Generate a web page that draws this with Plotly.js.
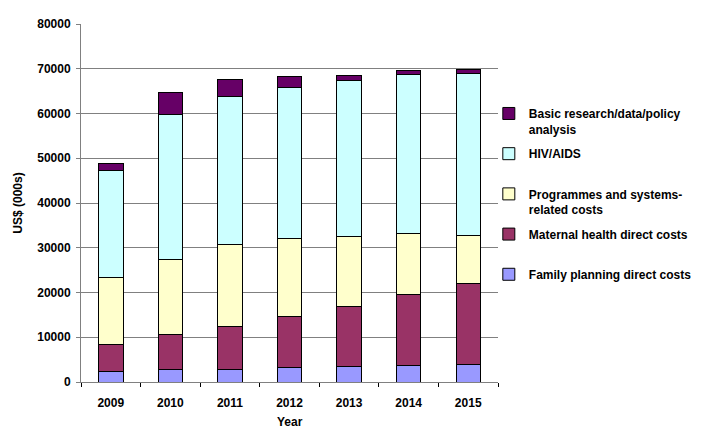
<!DOCTYPE html>
<html>
<head>
<meta charset="utf-8">
<script src="https://cdn.plot.ly/plotly-3.0.1.min.js"></script>
<style>html,body{margin:0;padding:0;background:#fff;}#chart{width:716px;height:429px;}</style>
</head>
<body>
<div id="chart"></div>
<script>
const years = ['2009','2010','2011','2012','2013','2014','2015'];
const familyPlanning = [2400, 2700, 2900, 3200, 3500, 3800, 4000];
const maternalHealth = [6000, 7900, 9500, 11400, 13300, 15800, 18000];
const programmes = [15000, 16800, 18300, 17400, 15800, 13600, 10800];
const hivAids = [23800, 32400, 33100, 33800, 34800, 35600, 36200];
const basicResearch = [1700, 4900, 3900, 2400, 1100, 850, 900];

const seriesNames = [
  'Family planning direct costs<br>&nbsp;',
  'Maternal health direct costs<br>&nbsp;',
  'Programmes and systems-<br>related costs',
  'HIV/AIDS<br>&nbsp;',
  'Basic research/data/policy<br>analysis'
];
const seriesColors = ['#9999FF', '#993366', '#FFFFCC', '#CCFFFF', '#660066'];
const seriesValues = [familyPlanning, maternalHealth, programmes, hivAids, basicResearch];
const xTitle = 'Year';
const yTitle = 'US$ (000s)';

const traces = seriesValues.map((vals, i) => ({
  type: 'bar',
  name: seriesNames[i],
  legendgroup: 'g' + i,
  legendrank: 1000 - i,
  x: years,
  y: vals,
  marker: {color: seriesColors[i], line: {color: '#000000', width: 1}},
  hoverinfo: 'x+y+name'
}));

const layout = {
  width: 716,
  height: 429,
  barmode: 'stack',
  bargap: 0.59,
  paper_bgcolor: '#ffffff',
  plot_bgcolor: '#ffffff',
  font: {family: 'Liberation Sans, Arial, sans-serif', size: 12, color: '#000000', weight: 'bold'},
  margin: {l: 81, r: 218, t: 24, b: 47},
  xaxis: {
    type: 'category',
    showgrid: false,
    showline: true,
    linecolor: '#808080',
    linewidth: 1,
    ticks: 'outside',
    tickson: 'boundaries',
    ticklen: 4,
    tickcolor: '#000000',
    ticklabelstandoff: 10,
    tickfont: {size: 12, weight: 'bold'},
    automargin: false
  },
  yaxis: {
    range: [0, 80000],
    dtick: 10000,
    tickformat: 'd',
    showgrid: true,
    gridcolor: '#808080',
    gridwidth: 1,
    showline: true,
    linecolor: '#808080',
    linewidth: 1,
    ticks: 'outside',
    ticklen: 4,
    tickcolor: '#808080',
    ticklabelstandoff: 3,
    zeroline: false,
    tickfont: {size: 12, weight: 'bold'},
    title: {text: yTitle, font: {size: 12, weight: 'bold'}, standoff: 12},
    automargin: false
  },
  annotations: [{
    text: xTitle,
    xref: 'paper', yref: 'paper',
    x: 0.5, y: 0,
    xanchor: 'center', yanchor: 'top',
    yshift: -31,
    showarrow: false,
    font: {size: 12, weight: 'bold'}
  }],
  legend: {
    x: 0.978,
    xanchor: 'left',
    y: 0.79,
    yanchor: 'top',
    traceorder: 'grouped',
    tracegroupgap: 6,
    valign: 'top',
    font: {size: 12, weight: 'bold'},
    bgcolor: 'rgba(0,0,0,0)'
  },
  showlegend: true
};

Plotly.newPlot('chart', traces, layout, {displayModeBar: false, staticPlot: true});
</script>
</body>
</html>
